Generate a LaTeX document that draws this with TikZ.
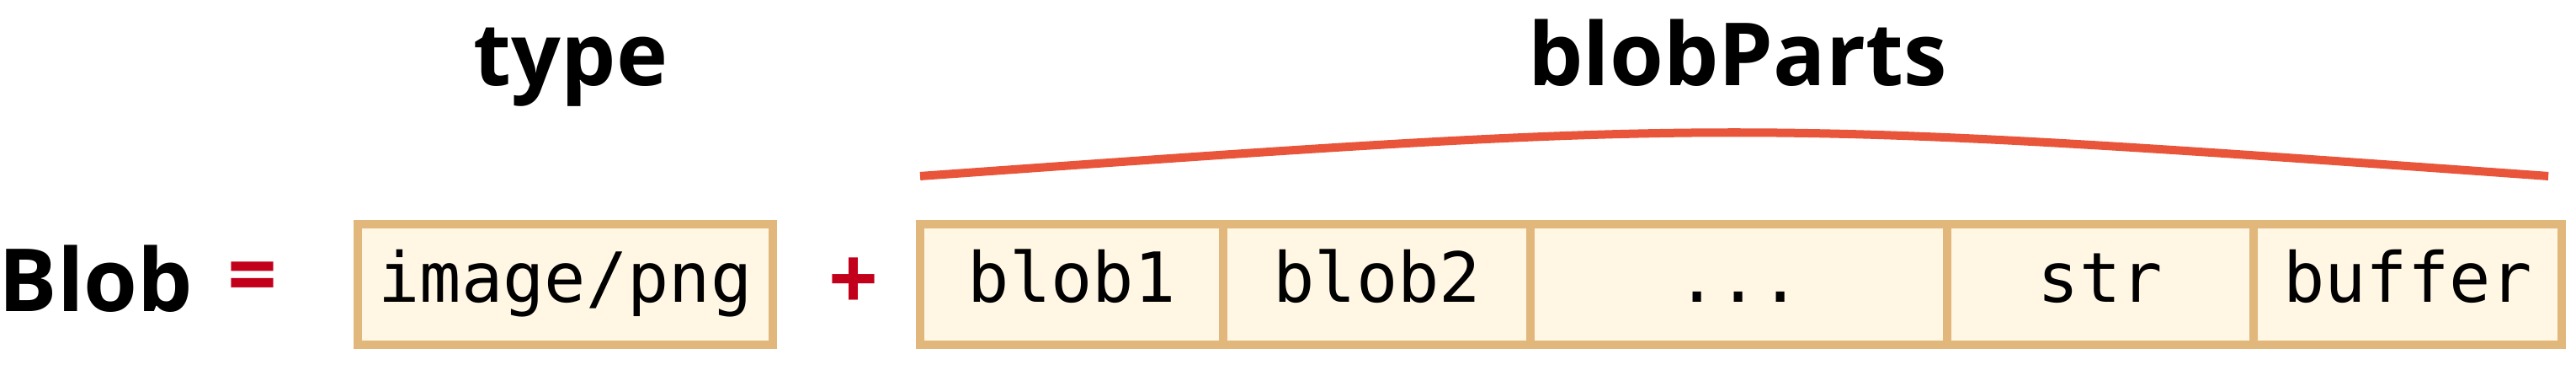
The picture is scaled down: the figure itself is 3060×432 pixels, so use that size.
\documentclass[tikz,border=0pt]{standalone}
\usepackage{fontspec}
\setmainfont{Open Sans}
\setmonofont{DejaVu Sans Mono}
\usetikzlibrary{positioning}
\definecolor{cellfill}{HTML}{FFF6E4}
\definecolor{celledge}{HTML}{E2B77C}
\definecolor{signred}{HTML}{C3001B}
\definecolor{bracered}{HTML}{E8553A}

\begin{document}
\begin{tikzpicture}[x=0.01cm, y=-0.01cm,
	cell/.style={draw=celledge, fill=cellfill, line width=0.1cm, outer sep=0pt, inner sep=0pt,
		minimum height=1.43cm, text height=0.6cm, text depth=0.19cm,
		font=\ttfamily\fontsize{23.3}{28}\selectfont},
	title/.style={anchor=base, inner sep=0pt, font=\bfseries\fontsize{29.4}{35}\selectfont},
	sign/.style={inner sep=0pt, text=signred, font=\bfseries\fontsize{29.4}{35}\selectfont},
	brace/.style={draw=bracered, line width=0.1cm}]

	\useasboundingbox (0,0) rectangle (3060,432);

	\node[title] (blob) at (114,369) {Blob};
	\node[sign] (eq) at (300,337) {=};
	\node[cell, minimum width=4.93cm] (type) at (671.5,337.5) {image/png};
	\node[sign] (plus) at (1014,337) {+};

	\node[cell, minimum width=3.6cm, anchor=west] (p1) at (1093,337.5) {blob1};
	\node[cell, minimum width=3.65cm] (p2) [right=0pt of p1] {blob2};
	\node[cell, minimum width=4.94cm] (dots) [right=0pt of p2] {...};
	\node[cell, minimum width=3.64cm] (str) [right=0pt of dots] {str};
	\node[cell, minimum width=3.66cm] (buf) [right=0pt of str] {buffer};

	\node[title] (typelbl) at (678,101) {type};
	\node[title] (partslbl) at (2064,101) {blobParts};

	\coordinate (bl) at ([yshift=0.57cm]p1.north west);
	\coordinate (br) at ([xshift=-0.16cm, yshift=0.57cm]buf.north east);
	\draw[brace] (bl) .. controls (2060,140) .. (br);
\end{tikzpicture}
\end{document}
